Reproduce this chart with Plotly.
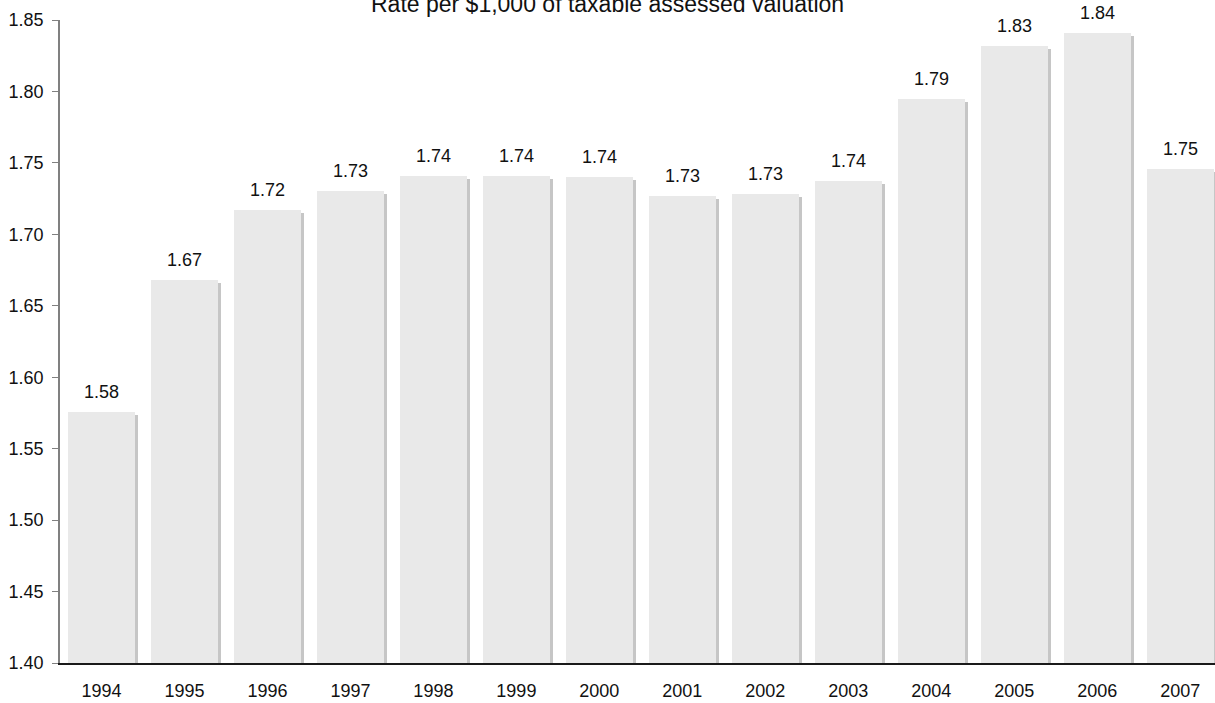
import plotly.graph_objects as go

years = ["1994", "1995", "1996", "1997", "1998", "1999", "2000",
         "2001", "2002", "2003", "2004", "2005", "2006", "2007"]
rates = [1.576, 1.668, 1.717, 1.730, 1.741, 1.741, 1.740,
         1.727, 1.728, 1.737, 1.795, 1.832, 1.841, 1.746]
rate_labels = ["1.58", "1.67", "1.72", "1.73", "1.74", "1.74", "1.74",
               "1.73", "1.73", "1.74", "1.79", "1.83", "1.84", "1.75"]
title_text = "Rate per $1,000 of taxable assessed valuation"
y_ticks = [1.40, 1.45, 1.50, 1.55, 1.60, 1.65, 1.70, 1.75, 1.80, 1.85]

FONT = "Liberation Sans, Arial, sans-serif"
W, H = 1215, 703
ML, MT, MB = 60, 20, 40
x_range = [-0.5, 13.42]
y_range = [1.40, 1.85]
px_per_x = (W - ML) / (x_range[1] - x_range[0])
px_per_y = (H - MT - MB) / (y_range[1] - y_range[0])
bar_w = 67 / px_per_x
sh_dx = 3 / px_per_x
sh_dy = 3 / px_per_y

xs = list(range(len(years)))

fig = go.Figure()
# shadow
fig.add_trace(go.Bar(
    x=xs, y=[v - sh_dy for v in rates],
    width=bar_w, offset=-bar_w / 2 + sh_dx,
    marker=dict(color="#c6c6c6", line=dict(width=0)),
    hoverinfo="skip", showlegend=False,
))
# main bars
fig.add_trace(go.Bar(
    x=xs, y=rates,
    width=bar_w, offset=-bar_w / 2,
    marker=dict(color="#e9e9e9", line=dict(width=0)),
    showlegend=False,
))

for i, (v, lab) in enumerate(zip(rates, rate_labels)):
    fig.add_annotation(x=i, y=v, text=lab, showarrow=False,
                       xref="x", yref="y", yanchor="bottom", yshift=8,
                       font=dict(family=FONT, size=18, color="#111111"))

fig.add_annotation(x=(W / 2 - ML) / (W - ML), y=1, xref="paper", yref="paper",
                   text=title_text, showarrow=False, yanchor="bottom", yshift=1,
                   font=dict(family=FONT, size=23, color="#111111"))

fig.update_layout(
    width=W, height=H,
    margin=dict(l=ML, r=0, t=MT, b=MB),
    paper_bgcolor="white", plot_bgcolor="white",
    barmode="overlay", bargap=0,
    font=dict(family=FONT, size=18, color="#111111"),
    xaxis=dict(range=x_range, tickmode="array", tickvals=xs, ticktext=years,
               showgrid=False, zeroline=False, showline=True,
               linecolor="#1a1a1a", linewidth=1.5, ticks="",
               ticklabelstandoff=11,
               tickfont=dict(family=FONT, size=18, color="#111111")),
    yaxis=dict(range=y_range, tickmode="array", tickvals=y_ticks,
               ticktext=[f"{t:.2f}" for t in y_ticks],
               showgrid=False, zeroline=False, showline=True,
               linecolor="#808080", linewidth=1.5, ticks="outside",
               ticklen=6, tickcolor="#808080", tickwidth=1,
               ticklabelstandoff=5,
               tickfont=dict(family=FONT, size=18, color="#111111")),
)

fig.write_html("out.html")
